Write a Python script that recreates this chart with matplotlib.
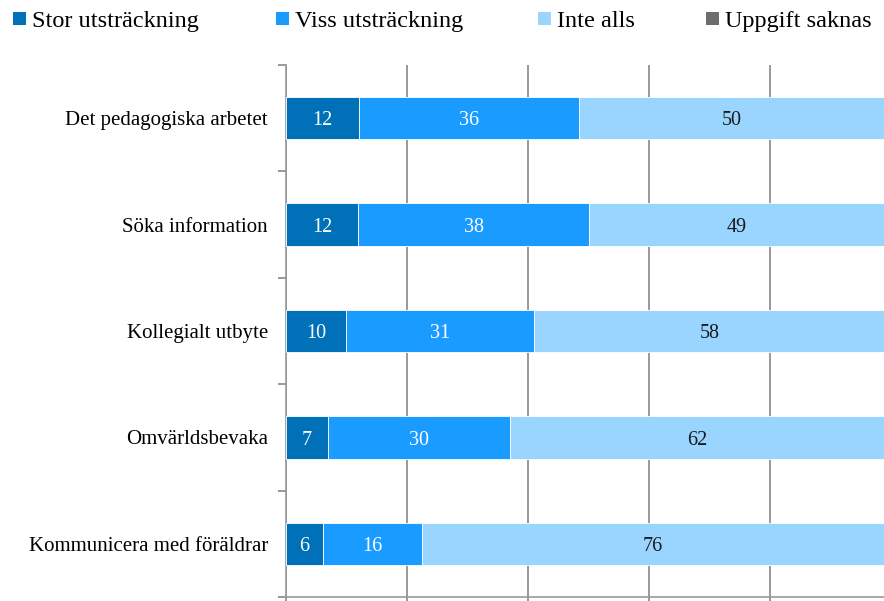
import matplotlib
matplotlib.use("Agg")
import matplotlib.pyplot as plt
from matplotlib.patches import Rectangle

# Data (percent)
categories = ["Det pedagogiska arbetet", "Söka information", "Kollegialt utbyte",
              "Omvärldsbevaka", "Kommunicera med föräldrar"]
stor = [12.1, 11.9, 9.9, 6.9, 6.1]
viss = [36.4, 38.2, 31.1, 30.1, 16.3]
inte = [50.4, 48.9, 58.0, 62.0, 76.4]
saknas = [1.1, 1.0, 1.0, 1.0, 1.2]
series_names = ["Stor utsträckning", "Viss utsträckning", "Inte alls", "Uppgift saknas"]
colors = ["#0070b8", "#1a9bff", "#99d5ff", "#6d6d6d"]
label_colors = ["white", "white", "#1a1a1a", "white"]

plt.rcParams['font.family'] = ['Liberation Serif', 'DejaVu Serif']

fig = plt.figure(figsize=(8.84, 6.01), dpi=100)
ax = fig.add_axes([286/884, 1 - 597/601, (891 - 286)/884, (597 - 65)/601])

ypos = list(range(len(categories)))
left = [0.0] * len(categories)
for vals, col, lc in zip([stor, viss, inte, saknas], colors, label_colors):
    ax.barh(ypos, vals, left=left, height=0.4, color=col, edgecolor="white", linewidth=0.6, zorder=3)
    for y, v, l in zip(ypos, vals, left):
        if v >= 3:
            ax.annotate(f"{round(v):d}", (l + v / 2, y), xytext=(0, -2), textcoords="offset points",
                        ha="center", va="center", color=lc, fontsize=14.5, zorder=4)
    left = [l + v for l, v in zip(left, vals)]

ax.set_xlim(0, 100)
ax.set_ylim(len(categories) - 0.5, -0.5)
ax.set_xticks([0, 20, 40, 60, 80, 100])
ax.set_xticklabels([])
ax.set_yticks(ypos)
ax.set_yticklabels(categories, fontsize=15)
ax.set_yticks([i - 0.5 for i in range(len(categories) + 1)], minor=True)
ax.tick_params(axis="y", which="major", length=0, pad=13)
ax.tick_params(axis="y", which="minor", length=6, color="#888888", width=1.2)
ax.tick_params(axis="x", length=6, color="#888888", width=1.2)
ax.grid(axis="x", color="#888888", linewidth=1.2, zorder=0)

for s in ["top", "right"]:
    ax.spines[s].set_visible(False)
for s in ["left", "bottom"]:
    ax.spines[s].set_color("#999999")
    ax.spines[s].set_linewidth(1.2)

# Legend across the top, one entry at a time
W, H = 884, 601
legend_x = [13, 276, 538, 706]
for x, name, col in zip(legend_x, series_names, colors):
    fig.patches.append(Rectangle((x / W, 1 - 25 / H), 13 / W, 13 / H,
                                 transform=fig.transFigure, facecolor=col, edgecolor="none"))
    fig.text((x + 19) / W, 1 - 19 / H, name, ha="left", va="center_baseline", fontsize=17.5)

fig.savefig("out.png", dpi=100)
